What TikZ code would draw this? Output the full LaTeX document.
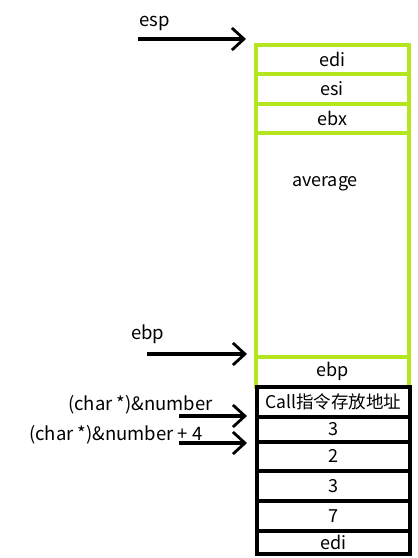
\documentclass[tikz,border=0pt]{standalone}
\usepackage{fontspec}
\setmainfont{Noto Sans CJK SC}
\usetikzlibrary{arrows.meta}
\definecolor{slotgreen}{RGB}{180,230,30}

\tikzset{
	slot/.style={draw,line width=3.5pt,minimum width=153pt,inner sep=0pt,anchor=north west,font=\fontsize{18}{20}\selectfont},
	greenslot/.style={slot,draw=slotgreen},
	blackslot/.style={slot,draw=black},
	tag/.style={anchor=west,inner sep=0pt,font=\fontsize{18.5}{20}\selectfont},
	pointer/.style={line width=3.2pt,-{Straight Barb[length=12pt,width=22pt,line width=2.8pt]}}
}

\begin{document}
\begin{tikzpicture}[x=1pt,y=-1pt]
	\useasboundingbox (0,0) rectangle (418,558);
	% green part of the stack
	\node[greenslot,minimum height=29pt] (edi) at (254,43) {edi};
	\node[greenslot,minimum height=30pt] (esi) at (254,72) {esi};
	\node[greenslot,minimum height=29pt] (ebx) at (254,102) {ebx};
	\node[greenslot,minimum height=224pt] (average) at (254,131) {};
	\node[font=\fontsize{18}{20}\selectfont] (avglabel) at (325,184) {average};
	\node[greenslot,minimum height=30pt] (ebp) at (254,355) {ebp};
	% black part of the stack
	\node[blackslot,minimum height=30pt,font=\fontsize{17.5}{20}\selectfont] (ret) at (255,385) {Call指令存放地址};
	\foreach \name/\txt/\top/\h in {a/3/415/25, b/2/440/29, c/3/469/30, d/7/499/30, e/edi/529/23}
	{
		\node[blackslot,minimum height=\h pt] (\name) at (255,\top) {\txt};
	}
	% pointers
	\node[tag] (esplabel) at (139,23) {esp};
	\coordinate (espfrom) at (138,39);
	\coordinate (espto) at (246,39);
	\draw[pointer] (espfrom) -- (espto);
	
	\node[tag] (ebplabel) at (131,334) {ebp};
	\coordinate (ebpfrom) at (147,354);
	\coordinate (ebpto) at (247,354);
	\draw[pointer] (ebpfrom) -- (ebpto);
	
	\node[tag] (numlabel) at (68,405) {(char *)\&number};
	\coordinate (numfrom) at (179,416);
	\coordinate (numto) at (247,416);
	\draw[pointer] (numfrom) -- (numto);
	
	\node[tag] (num4label) at (29,435) {(char *)\&number + 4};
	\coordinate (num4from) at (179,443);
	\coordinate (num4to) at (247,443);
	\draw[pointer] (num4from) -- (num4to);
	
\end{tikzpicture}
\end{document}
